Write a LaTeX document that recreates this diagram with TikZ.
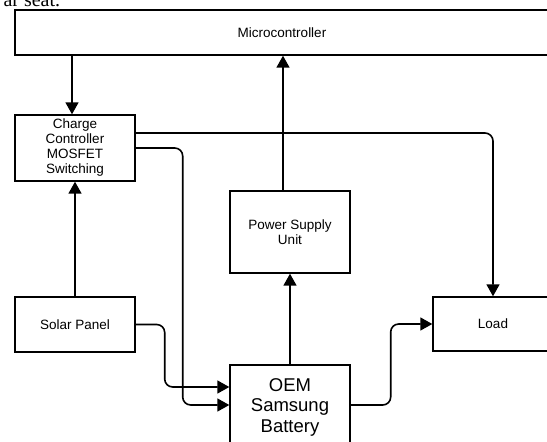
\documentclass[tikz,border=0pt]{standalone}
\usepackage{fontspec}
\setmainfont{Liberation Sans}
\newfontfamily\serifcut{Liberation Serif}
\usetikzlibrary{arrows.meta}

\begin{document}
\begin{tikzpicture}[x=1pt, y=-1pt,
    blockbox/.style={draw, line width=1.4pt, minimum width=120pt, inner sep=0pt, align=center, font=\fontsize{13.5}{15}\selectfont},
    flow/.style={line width=1.6pt, rounded corners=8pt, -{Triangle[length=12pt,width=13pt]}}]
  \useasboundingbox (0,0) rectangle (547,442);
  \clip (0,0) rectangle (547,442);
  \node[anchor=base west, font=\serifcut\fontsize{20}{22}\selectfont] (cut) at (0,6) {ar seat.};
  % blocks
  \node[blockbox, minimum width=534pt, minimum height=45pt] (mc) at (282,32.5) {Microcontroller};
  \node[blockbox, minimum height=66pt] (cc) at (75,148) {Charge\\Controller\\MOSFET\\Switching};
  \node[blockbox, minimum height=55pt] (sp) at (75,324.5) {Solar Panel};
  \node[blockbox, minimum height=82pt] (psu) at (290,232) {Power Supply\\Unit};
  \node[blockbox, minimum height=54pt] (load) at (493,324) {Load};
  \node[blockbox, minimum height=84pt, font=\fontsize{18.5}{20.5}\selectfont] (bat) at (290,407) {OEM\\Samsung\\Battery};
  % connectors
  \draw[flow] ([xshift=-3pt]cc.north |- mc.south) -- ([xshift=-3pt]cc.north);
  \draw[flow] (sp.north) -- (cc.south);
  \draw[flow] ([xshift=-7pt]psu.north) -- ([xshift=-7pt]psu.north |- mc.south);
  \draw[flow] (bat.north) -- (psu.south);
  \draw[flow] ([yshift=15pt]cc.east) -| (load.north);
  \draw[flow] (cc.east) -- ++(47,0) |- ([yshift=2pt]bat.west);
  \draw[flow] (sp.east) -- ++(29,0) |- ([yshift=20pt]bat.west);
  \draw[flow] ([yshift=2pt]bat.east) -- ++(40,0) |- (load.west);
\end{tikzpicture}
\end{document}
